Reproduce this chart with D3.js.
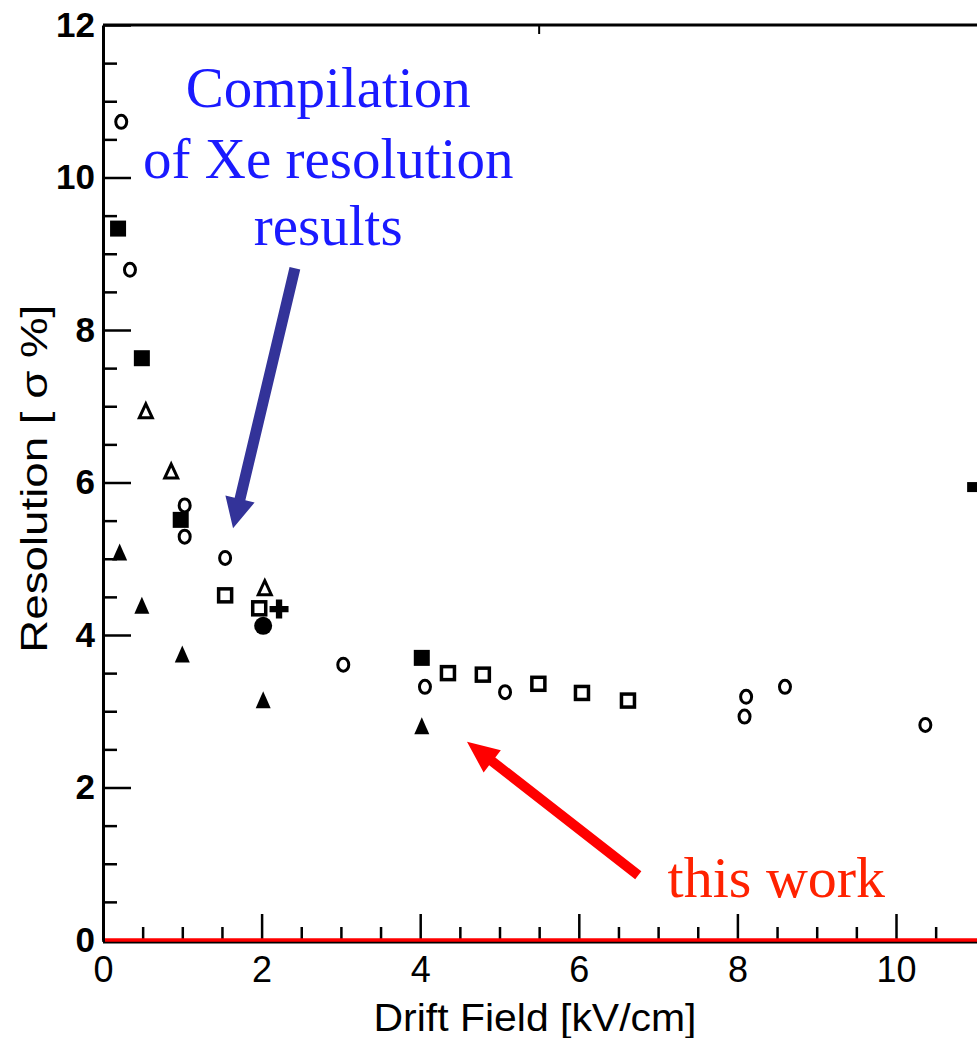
<!DOCTYPE html>
<html>
<head>
<meta charset="utf-8">
<script src="https://cdn.jsdelivr.net/npm/d3@7"></script>
<style>
  body { margin: 0; background: #fff; }
  svg { display: block; }
</style>
</head>
<body>
<svg id="chart" width="977" height="1038"></svg>
<script>
// marker series (x = drift field kV/cm, y = resolution sigma %)
var filledSquareX = [0.19, 0.49, 0.98, 4.02];
var filledSquareY = [9.33, 7.63, 5.51, 3.70];
var smallSquareX = [10.96];
var smallSquareY = [5.94];
var openCircleX = [0.23, 0.34, 1.03, 1.03, 1.54, 3.03, 4.06, 5.07, 8.09, 8.11, 8.60, 10.37];
var openCircleY = [10.73, 8.79, 5.70, 5.29, 5.01, 3.61, 3.32, 3.25, 2.93, 3.19, 3.32, 2.82];
var openTriangleX = [0.54, 0.86, 2.04];
var openTriangleY = [6.94, 6.15, 4.62];
var filledTriangleX = [0.21, 0.49, 1.00, 2.02, 4.02];
var filledTriangleY = [5.09, 4.39, 3.75, 3.15, 2.81];
var openSquareX = [1.54, 1.97, 4.35, 4.79, 5.49, 6.04, 6.62];
var openSquareY = [4.52, 4.35, 3.50, 3.48, 3.36, 3.24, 3.14];
var plusX = [2.22];
var plusY = [4.34];
var filledCircleX = [2.02];
var filledCircleY = [4.12];

// axis ticks
var yMajor = [0, 2, 4, 6, 8, 10, 12];
var yMinor = d3.range(0.5, 12, 0.5).filter(function(v) { return v % 2 !== 0; });
var xMajor = [0, 2, 4, 6, 8, 10];
var xMinor = d3.range(0.5, 11, 0.5).filter(function(v) { return v % 2 !== 0; });
var topTicks = [5.5];

var svg = d3.select("#chart");

var x = d3.scaleLinear().domain([0, 10]).range([103, 896]);
var y = d3.scaleLinear().domain([0, 12]).range([940, 25]);

var W = 977;

// frame: top line
svg.append("line")
    .attr("x1", x(0)).attr("x2", W)
    .attr("y1", y(12)).attr("y2", y(12))
    .attr("stroke", "#000").attr("stroke-width", 3);

svg.selectAll(".toptick")
    .data(topTicks)
    .enter().append("line")
    .attr("x1", function(d) { return x(d); })
    .attr("x2", function(d) { return x(d); })
    .attr("y1", y(12)).attr("y2", y(12) + 9)
    .attr("stroke", "#000").attr("stroke-width", 2);

// y axis
var yAxis = svg.append("g")
    .attr("transform", "translate(" + x(0) + ",0)")
    .call(d3.axisLeft(y).tickValues(yMajor).tickSize(-28).tickSizeOuter(0).tickPadding(8));
yAxis.select(".domain").attr("stroke-width", 3);
yAxis.selectAll(".tick line").attr("stroke-width", 2.5);
yAxis.selectAll(".tick text")
    .attr("font-family", "Liberation Sans, Arial, sans-serif")
    .attr("font-size", 35)
    .attr("font-weight", "bold")
    .attr("fill", "#000");

var yMinorAxis = svg.append("g")
    .attr("transform", "translate(" + x(0) + ",0)")
    .call(d3.axisLeft(y).tickValues(yMinor).tickSize(-14).tickFormat(""));
yMinorAxis.select(".domain").remove();
yMinorAxis.selectAll(".tick line").attr("stroke-width", 2.5);

// x axis
var xAxis = svg.append("g")
    .attr("transform", "translate(0," + (y(0) + 2) + ")")
    .call(d3.axisBottom(x).tickValues(xMajor).tickSize(-28).tickSizeOuter(0).tickPadding(14));
xAxis.select(".domain").attr("d", "M" + x(0) + ",0H" + W).attr("stroke-width", 3);
xAxis.selectAll(".tick line").attr("stroke-width", 2.5);
xAxis.selectAll(".tick text")
    .attr("font-family", "Liberation Sans, Arial, sans-serif")
    .attr("font-size", 36)
    .attr("fill", "#000");

var xMinorAxis = svg.append("g")
    .attr("transform", "translate(0," + (y(0) + 2) + ")")
    .call(d3.axisBottom(x).tickValues(xMinor).tickSize(-15).tickFormat(""));
xMinorAxis.select(".domain").remove();
xMinorAxis.selectAll(".tick line").attr("stroke-width", 2.5);

// red zero line
svg.append("line")
    .attr("x1", x(0) + 2).attr("x2", W)
    .attr("y1", y(0)).attr("y2", y(0))
    .attr("stroke", "#ff0000").attr("stroke-width", 3.5);

// axis titles
svg.append("text")
    .attr("transform", "translate(47," + y(6.05) + ") rotate(-90)")
    .attr("text-anchor", "middle")
    .attr("font-family", "Liberation Sans, Arial, sans-serif")
    .attr("font-size", 37)
    .attr("textLength", 348)
    .attr("lengthAdjust", "spacingAndGlyphs")
    .text("Resolution [ \u03c3 %]");

svg.append("text")
    .attr("x", 535).attr("y", 1031)
    .attr("text-anchor", "middle")
    .attr("font-family", "Liberation Sans, Arial, sans-serif")
    .attr("font-size", 38)
    .attr("textLength", 323)
    .attr("lengthAdjust", "spacingAndGlyphs")
    .text("Drift Field [kV/cm]");

// markers
function pts(xs, ys) {
    return xs.map(function(v, i) { return {x: v, y: ys[i]}; });
}
function tr(d) { return "translate(" + x(d.x) + "," + y(d.y) + ")"; }

function triPath(w, h) {
    return "M0," + (-h / 2) + "L" + (w / 2) + "," + (h / 2) + "L" + (-w / 2) + "," + (h / 2) + "Z";
}

var marks = svg.append("g");

marks.selectAll(".fsq").data(pts(filledSquareX, filledSquareY)).enter()
    .append("rect").attr("class", "fsq")
    .attr("x", function(d) { return x(d.x) - 8; })
    .attr("y", function(d) { return y(d.y) - 8; })
    .attr("width", 16).attr("height", 16)
    .attr("fill", "#000");

marks.selectAll(".ssq").data(pts(smallSquareX, smallSquareY)).enter()
    .append("rect").attr("class", "ssq")
    .attr("x", function(d) { return x(d.x) - 5; })
    .attr("y", function(d) { return y(d.y) - 5; })
    .attr("width", 10).attr("height", 10)
    .attr("fill", "#000");

marks.selectAll(".osq").data(pts(openSquareX, openSquareY)).enter()
    .append("rect").attr("class", "osq")
    .attr("x", function(d) { return x(d.x) - 6.5; })
    .attr("y", function(d) { return y(d.y) - 6.5; })
    .attr("width", 13).attr("height", 13)
    .attr("fill", "#fff").attr("stroke", "#000").attr("stroke-width", 3.5);

marks.selectAll(".oc").data(pts(openCircleX, openCircleY)).enter()
    .append("ellipse").attr("class", "oc")
    .attr("cx", function(d) { return x(d.x); })
    .attr("cy", function(d) { return y(d.y); })
    .attr("rx", 5.5).attr("ry", 6.5)
    .attr("fill", "#fff").attr("stroke", "#000").attr("stroke-width", 3);

marks.selectAll(".ot").data(pts(openTriangleX, openTriangleY)).enter()
    .append("path").attr("class", "ot")
    .attr("transform", tr)
    .attr("d", triPath(13, 14))
    .attr("fill", "#fff").attr("stroke", "#000").attr("stroke-width", 3)
    .attr("stroke-linejoin", "miter");

marks.selectAll(".ft").data(pts(filledTriangleX, filledTriangleY)).enter()
    .append("path").attr("class", "ft")
    .attr("transform", tr)
    .attr("d", triPath(15, 17))
    .attr("fill", "#000");

marks.selectAll(".pl").data(pts(plusX, plusY)).enter()
    .append("path").attr("class", "pl")
    .attr("transform", tr)
    .attr("d", d3.symbol(d3.symbolCross, 200))
    .attr("fill", "#000");

marks.selectAll(".fc").data(pts(filledCircleX, filledCircleY)).enter()
    .append("circle").attr("class", "fc")
    .attr("cx", function(d) { return x(d.x); })
    .attr("cy", function(d) { return y(d.y); })
    .attr("r", 9)
    .attr("fill", "#000");

// annotation arrows (tail -> tip, in data units)
function arrow(x0, y0, x1, y1, shaft, headLen, headW) {
    var ax = x(x0), ay = y(y0), bx = x(x1), by = y(y1);
    var dx = bx - ax, dy = by - ay, len = Math.sqrt(dx * dx + dy * dy);
    var ux = dx / len, uy = dy / len, px = -uy, py = ux;
    var hx = bx - ux * headLen, hy = by - uy * headLen;
    var p = d3.path();
    p.moveTo(ax + px * shaft / 2, ay + py * shaft / 2);
    p.lineTo(hx + px * shaft / 2, hy + py * shaft / 2);
    p.lineTo(hx + px * headW / 2, hy + py * headW / 2);
    p.lineTo(bx, by);
    p.lineTo(hx - px * headW / 2, hy - py * headW / 2);
    p.lineTo(hx - px * shaft / 2, hy - py * shaft / 2);
    p.lineTo(ax - px * shaft / 2, ay - py * shaft / 2);
    p.closePath();
    return p.toString();
}

svg.append("path")
    .attr("d", arrow(2.42, 8.81, 1.64, 5.40, 11, 30, 30))
    .attr("fill", "#333399");

svg.append("path")
    .attr("d", arrow(6.75, 0.85, 4.59, 2.60, 10, 32, 28))
    .attr("fill", "#ff0000");

// annotation texts
var blueLines = ["Compilation", "of Xe resolution", "results"];
var blueBase = [10.92, 9.99, 9.11];
svg.selectAll(".blue").data(blueLines).enter()
    .append("text").attr("class", "blue")
    .attr("x", x(2.84))
    .attr("y", function(d, i) { return y(blueBase[i]); })
    .attr("text-anchor", "middle")
    .attr("font-family", "Liberation Serif, Times New Roman, serif")
    .attr("font-size", 57)
    .attr("fill", "#1a1aff")
    .text(function(d) { return d; });

svg.append("text")
    .attr("x", x(7.12)).attr("y", y(0.56))
    .attr("font-family", "Liberation Serif, Times New Roman, serif")
    .attr("font-size", 58)
    .attr("fill", "#ff2200")
    .text("this work");
</script>
</body>
</html>
